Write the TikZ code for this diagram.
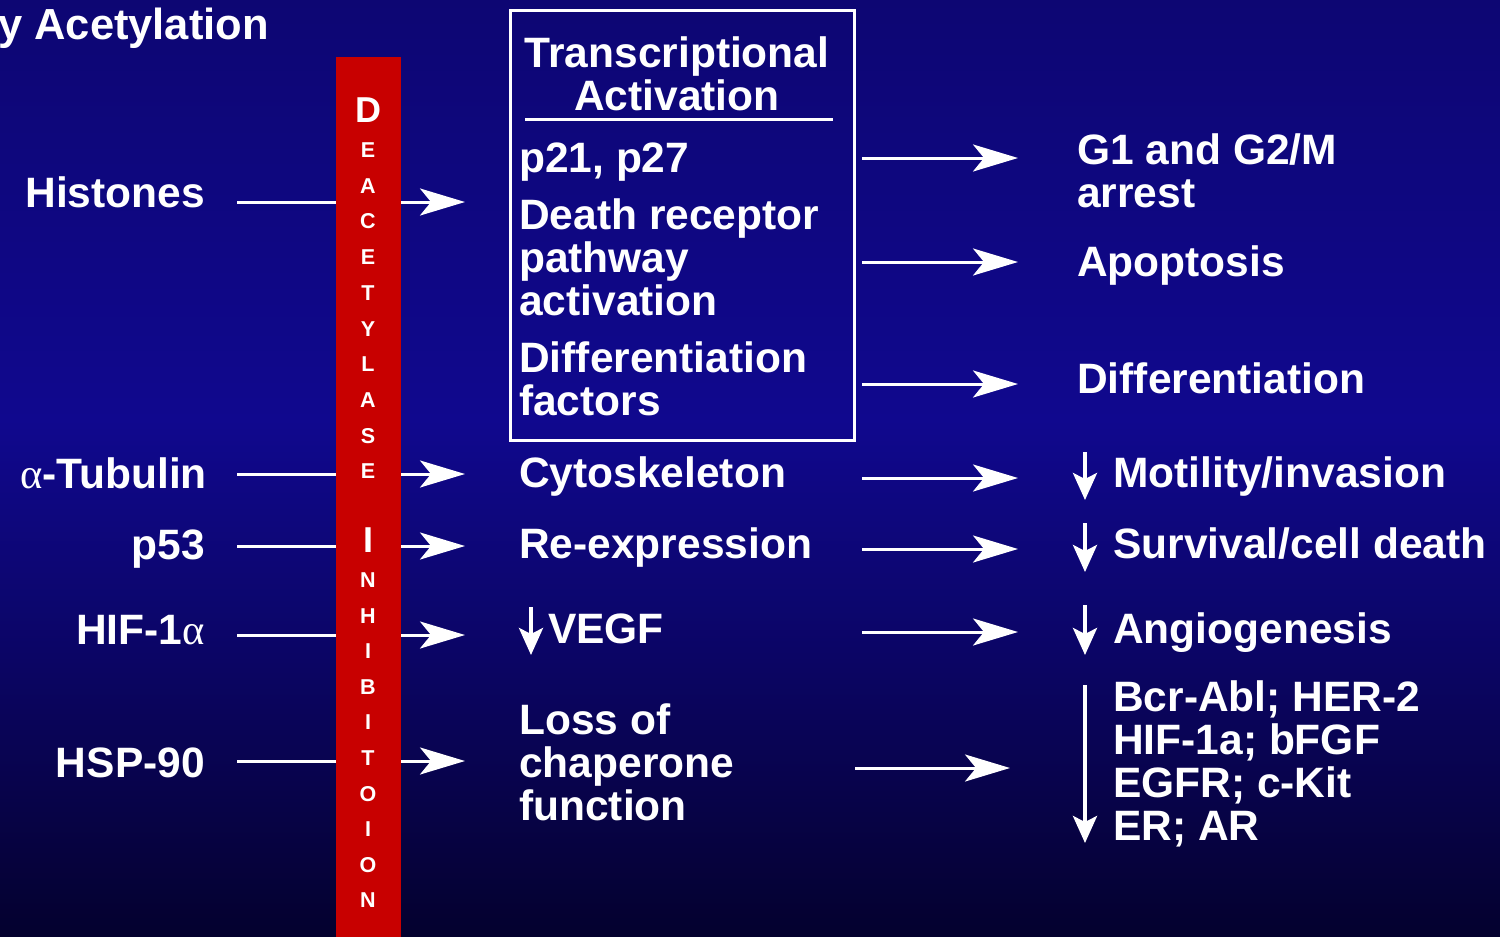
\documentclass[tikz,border=0pt]{standalone}
\usepackage{fontspec}
\setmainfont{Liberation Sans}
\newfontfamily\greekfont{Liberation Serif}
\usetikzlibrary{arrows.meta}
\definecolor{slidetop}{RGB}{13,6,115}
\definecolor{slidemid}{RGB}{16,8,142}
\definecolor{slidelow}{RGB}{11,5,100}
\definecolor{slidebot}{RGB}{4,1,46}
\definecolor{barred}{RGB}{200,0,0}
\newcommand{\alf}{{\greekfont\mdseries α}}

\begin{document}
\begin{tikzpicture}[x=1pt, y=-1pt, >=Stealth,
    lbl/.style={text=white, inner sep=0pt, font=\bfseries\fontsize{42.5}{43}\selectfont},
    barlet/.style={text=white, inner sep=0pt, anchor=base, font=\bfseries\fontsize{21.5}{22}\selectfont},
    bigbarlet/.style={barlet, font=\bfseries\fontsize{36}{38}\selectfont},
    conn/.style={white, line width=3pt, -{Stealth[length=45pt, width=27pt, inset=11pt]}},
    dnarr/.style={white, line width=4pt, -{Stealth[length=27pt, width=24pt, inset=6pt]}}]
    % Hintergrund
    \shade[top color=slidetop, bottom color=slidemid] (0,0) rectangle (1500,421);
    \shade[top color=slidemid, bottom color=slidelow] (0,420) rectangle (1500,661);
    \shade[top color=slidelow, bottom color=slidebot] (0,660) rectangle (1500,937);
    \useasboundingbox (0,0) rectangle (1500,937);
    % Titelrest
    \node[lbl, anchor=base west, font=\bfseries\fontsize{43.5}{44}\selectfont] (title) at (-2,39) {y Acetylation};
    % Substrate links
    \node[lbl, anchor=base east] (hist) at (205,207) {Histones};
    \node[lbl, anchor=base east] (tub) at (207,488) {\alf-Tubulin};
    \node[lbl, anchor=base east] (p53) at (205,559) {p53};
    \node[lbl, anchor=base east] (hif) at (205,644) {HIF-1\alf};
    \node[lbl, anchor=base east] (hsp) at (205,777) {HSP-90};
    % Pfeile durch den Balken
    \foreach \nm/\yy in {hist/202, tub/474, p53/546, hif/635, hsp/761} {
        \coordinate (\nm-in) at (237,\yy);
        \coordinate (\nm-out) at (465,\yy);
        \draw[conn] (\nm-in) -- (\nm-out);
    }
    % Balken
    \node[fill=barred, inner sep=0pt, minimum width=65pt, minimum height=882pt, anchor=north west] (bar) at (336,57) {};
    \node[bigbarlet] (deacD) at (368,122) {D};
    \foreach \ch [count=\i from 0] in {E,A,C,E,T,Y,L,A,S,E}
        \node[barlet] (deac-\i) at (368,{157.5+35.7*\i}) {\ch};
    \node[bigbarlet] (inhI) at (368,552) {I};
    \foreach \ch [count=\i from 0] in {N,H,I,B,I,T,O,I,O,N}
        \node[barlet] (inh-\i) at (368,{587.5+35.6*\i}) {\ch};
    % Kasten (base = letzte Zeile)
    \node[draw=white, line width=3pt, inner sep=0pt, minimum width=344pt, minimum height=430pt, anchor=north west] (tbox) at (509,9) {};
    \node[lbl, anchor=base, align=center] (thead) at (677,110) {Transcriptional\\Activation};
    \coordinate (ul-a) at (525,119);
    \coordinate (ul-b) at (833,119);
    \draw[white, line width=3pt] (ul-a) -- (ul-b);
    \node[lbl, anchor=base west] (pcdk) at (519,172) {p21, p27};
    \node[lbl, anchor=base west, align=left] (dth) at (519,315) {Death receptor\\pathway\\activation};
    \node[lbl, anchor=base west, align=left] (dfac) at (519,415) {Differentiation\\factors};
    % Mitte
    \node[lbl, anchor=base west] (cyto) at (519,487) {Cytoskeleton};
    \node[lbl, anchor=base west] (reex) at (519,558) {Re-expression};
    \node[lbl, anchor=base west] (vegf) at (548,643) {VEGF};
    \node[lbl, anchor=base west, align=left] (loss) at (519,820) {Loss of\\chaperone\\function};
    \coordinate (vg-a) at (531,607);
    \coordinate (vg-b) at (531,655);
    \draw[dnarr] (vg-a) -- (vg-b);
    % Pfeile nach rechts
    \foreach \nm/\yy in {g1/158, apo/262, dif/384, mot/478, surv/549, ang/632} {
        \coordinate (r-\nm-a) at (862,\yy);
        \coordinate (r-\nm-b) at (1018,\yy);
        \draw[conn] (r-\nm-a) -- (r-\nm-b);
    }
    \coordinate (r-hsp-a) at (855,768);
    \coordinate (r-hsp-b) at (1010,768);
    \draw[conn] (r-hsp-a) -- (r-hsp-b);
    % Folgen rechts
    \node[lbl, anchor=base west, align=left] (arrest) at (1077,207) {G1 and G2/M\\arrest};
    \node[lbl, anchor=base west] (apop) at (1077,276) {Apoptosis};
    \node[lbl, anchor=base west] (diff) at (1077,393) {Differentiation};
    \node[lbl, anchor=base west] (moti) at (1113,487) {Motility/invasion};
    \node[lbl, anchor=base west] (surv) at (1113,558) {Survival/cell death};
    \node[lbl, anchor=base west] (angio) at (1113,643) {Angiogenesis};
    \node[lbl, anchor=base west, align=left] (onco) at (1113,840) {Bcr-Abl; HER-2\\HIF-1a; bFGF\\EGFR; c-Kit\\ER; AR};
    % Pfeile nach unten
    \foreach \nm/\ya/\yb in {mot/452/500, surv/523/572, ang/605/655, onc/685/843} {
        \coordinate (d-\nm-a) at (1085,\ya);
        \coordinate (d-\nm-b) at (1085,\yb);
        \draw[dnarr] (d-\nm-a) -- (d-\nm-b);
    }
\end{tikzpicture}
\end{document}
